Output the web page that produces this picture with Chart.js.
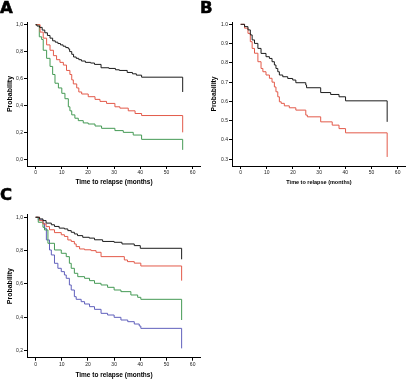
<!DOCTYPE html>
<html><head><meta charset="utf-8">
<script src="https://cdn.jsdelivr.net/npm/chart.js@4.4.1/dist/chart.umd.min.js"></script>
<style>
html,body{margin:0;padding:0;background:#fff;}
#wrap{position:relative;width:406px;height:379px;overflow:hidden;background:#fff;}
canvas{position:absolute;}
.lbl{position:absolute;font-family:"DejaVu Sans",sans-serif;font-weight:bold;font-size:15px;line-height:15px;color:#000;-webkit-text-stroke:0.5px #000;transform:scaleX(1.1);transform-origin:0 0;}
</style></head><body>
<div id="wrap">
<canvas id="cA" width="201" height="190" style="left:0;top:0"></canvas>
<canvas id="cB" width="206" height="190" style="left:200px;top:0"></canvas>
<canvas id="cC" width="201" height="194" style="left:0;top:185px"></canvas>
<div class="lbl" style="left:0;top:1px">A</div>
<div class="lbl" style="left:200px;top:1px">B</div>
<div class="lbl" style="left:0;top:188px">C</div>
</div>
<script>
// ---- tick labels ----
const xTicks = [0,10,20,30,40,50,60];
const xTickLabels = ['0','10','20','30','40','50','60'];
const yTicksA = [0,0.2,0.4,0.6,0.8,1.0];
const yTickLabelsA = ['0,0','0,2','0,4','0,6','0,8','1,0'];
const yTicksB = [0.3,0.4,0.5,0.6,0.7,0.8,0.9,1.0];
const yTickLabelsB = ['0.3','0.4','0.5','0.6','0.7','0.8','0.9','1.0'];
const yTicksC = [0.2,0.4,0.6,0.8,1.0];
const yTickLabelsC = ['0,2','0,4','0,6','0,8','1,0'];
const xTitle = 'Time to relapse (months)';
const yTitle = 'Probability';

// ---- Panel A ----
const timeA_black = [0,0.5,1.5,2.5,3.5,4.5,5.5,6.5,7.5,8.5,9.5,10.5,11.5,12.5,13,13.8,14.5,15.5,16.5,17.5,19,21,22.5,25,28,30.5,32,35,37,38.5,40.5,56.2];
const survA_black = [1,0.99,0.98,0.96,0.94,0.92,0.90,0.88,0.87,0.86,0.85,0.84,0.83,0.82,0.80,0.78,0.76,0.75,0.74,0.73,0.72,0.715,0.705,0.68,0.675,0.665,0.66,0.645,0.635,0.625,0.61,0.50];
const timeA_red = [0,1.7,2.9,4.2,5.5,6.8,8,9.3,10.6,11.8,13.1,13.8,14.4,15.7,16.5,17.6,20.1,22.7,24.6,27.1,30.3,32.2,35.4,38,40.5,56.2];
const survA_red = [1,0.945,0.90,0.85,0.81,0.77,0.74,0.72,0.70,0.66,0.63,0.59,0.56,0.53,0.50,0.485,0.465,0.445,0.43,0.415,0.39,0.38,0.36,0.34,0.325,0.20];
const timeA_green = [0,1.4,2.3,2.9,4.2,5.5,6.5,7.4,8.7,10,11.2,12.5,13.1,13.8,15,16.3,18.2,20.1,22.7,25.2,30.3,33.5,37.3,40.5,56.2];
const survA_green = [1,0.91,0.89,0.81,0.75,0.69,0.63,0.565,0.53,0.49,0.45,0.39,0.36,0.33,0.305,0.287,0.27,0.262,0.247,0.23,0.213,0.20,0.18,0.148,0.07];

// ---- Panel B ----
const timeB_black = [0,1.5,2.8,3.7,4.4,5.3,6.6,7.8,9.7,11,12,12.9,13.5,14.2,14.8,16.1,18,19.9,21.1,24.9,25.2,30.6,34.4,37.6,40.1,56];
const survB_black = [1,0.988,0.971,0.945,0.919,0.901,0.875,0.849,0.832,0.823,0.806,0.789,0.771,0.754,0.737,0.728,0.719,0.711,0.697,0.685,0.671,0.646,0.636,0.624,0.603,0.494];
const timeB_red = [0,1.5,2.8,3.7,4.4,5.3,6.6,7.8,8.5,9.7,11,12,12.9,13.5,14.2,14.8,15.5,16.7,18.6,21.1,24.9,25.5,30.6,35,37.6,40.1,56];
const survB_red = [1,0.98,0.953,0.91,0.875,0.85,0.806,0.771,0.754,0.737,0.72,0.70,0.675,0.65,0.624,0.598,0.59,0.577,0.567,0.555,0.529,0.52,0.494,0.477,0.459,0.437,0.312];

// ---- Panel C ----
const timeC_black = [0,1.5,2.8,4,6,7.2,9,11,12.3,13.6,14.8,16,18,20.5,22.5,25.6,30,33,37.7,40,55.8];
const survC_black = [1,0.99,0.98,0.965,0.955,0.945,0.935,0.93,0.92,0.91,0.90,0.89,0.88,0.875,0.865,0.855,0.85,0.84,0.83,0.814,0.748];
const timeC_red = [0,1.5,2.8,4,5.3,7.2,9.8,11,12.3,13.6,14.8,15.5,16.8,18.7,21.2,23.1,25,33.9,35.1,37.7,40.2,55.8];
const survC_red = [1,0.98,0.96,0.944,0.925,0.908,0.895,0.885,0.864,0.855,0.84,0.824,0.81,0.805,0.80,0.79,0.764,0.744,0.734,0.725,0.708,0.62];
const timeC_green = [0,1,2.8,3.4,4.7,7.2,9.8,11.7,12.9,13.6,14.8,16.1,18.7,20.6,22.5,25,27.5,30,32.6,36.4,39,40.2,55.8];
const survC_green = [1,0.97,0.94,0.924,0.844,0.804,0.784,0.764,0.724,0.694,0.664,0.644,0.634,0.62,0.604,0.594,0.58,0.564,0.554,0.534,0.52,0.508,0.384];
const timeC_blue = [0,1,2.8,3.4,4.1,5.3,6,7.2,8.5,9.8,11,11.7,12.9,13.6,14.8,15.5,17.4,18.7,20.6,22.5,25,27.5,30,32.6,35.2,37.7,39.6,40.2,55.8];
const survC_blue = [1,0.984,0.964,0.934,0.864,0.804,0.774,0.724,0.694,0.674,0.654,0.634,0.594,0.564,0.524,0.508,0.494,0.48,0.464,0.448,0.424,0.414,0.40,0.384,0.374,0.36,0.348,0.334,0.214];

const COL = {black:'#1c1c1c', red:'#e35a4a', green:'#459a55', blue:'#6060bc'};

function series(t, s, color){
  return {data: t.map((x,i)=>({x:x, y:s[i]})), borderColor: color, borderWidth: 1,
    pointRadius: 0, stepped: true, fill: false, tension: 0};
}
const tickFont = {family:'Liberation Sans', size:5};
function xScale(h, tSize, tPad){
  return {type:'linear', min:-3.3, max:63.2,
    afterBuildTicks: s => { s.ticks = xTicks.map(v=>({value:v})); },
    afterFit: s => { s.height = h; },
    ticks:{callback:(v,i)=>xTickLabels[i], font:tickFont, color:'#222', padding:1, autoSkip:false, maxRotation:0},
    grid:{drawOnChartArea:false, drawTicks:true, tickLength:3, color:'#000', lineWidth:1},
    border:{display:true, color:'#000', width:1},
    title:{display:true, text:xTitle, color:'#000', font:{family:'Liberation Sans', size:tSize, weight:'bold'}, padding:{top:0,bottom:tPad}}
  };
}
function yScale(min, max, ticks, labels, w, tSize, tPad){
  return {type:'linear', min:min, max:max,
    afterBuildTicks: s => { s.ticks = ticks.map(v=>({value:v})); },
    afterFit: s => { s.width = w; },
    ticks:{callback:(v,i)=>labels[i], font:tickFont, color:'#222', padding:1, autoSkip:false},
    grid:{drawOnChartArea:false, drawTicks:true, tickLength:3, color:'#000', lineWidth:1},
    border:{display:true, color:'#000', width:1},
    title:{display:true, text:yTitle, color:'#000', font:{family:'Liberation Sans', size:tSize, weight:'bold'}, padding:{top:tPad,bottom:0}}
  };
}
function make(id, datasets, xs, ys, padTop){
  new Chart(document.getElementById(id), {
    type:'line',
    data:{datasets:datasets},
    options:{responsive:false, animation:false, devicePixelRatio:1,
      layout:{padding:{top:padTop,left:0,right:0,bottom:0}},
      plugins:{legend:{display:false}, tooltip:{enabled:false}},
      scales:{x:xs, y:ys}}
  });
}
make('cA', [series(timeA_black,survA_black,COL.black), series(timeA_red,survA_red,COL.red), series(timeA_green,survA_green,COL.green)],
  xScale(24, 6.5, 4.1), yScale(-0.05, 1.02, yTicksA, yTickLabelsA, 27, 7, 5.6), 22);
make('cB', [series(timeB_black,survB_black,COL.black), series(timeB_red,survB_red,COL.red)],
  xScale(24, 5.5, 4), yScale(0.265, 1.012, yTicksB, yTickLabelsB, 32, 6.8, 10.4), 22);
make('cC', [series(timeC_black,survC_black,COL.black), series(timeC_red,survC_red,COL.red), series(timeC_green,survC_green,COL.green), series(timeC_blue,survC_blue,COL.blue)],
  xScale(21.3, 6.5, 0.1), yScale(0.158, 1.016, yTicksC, yTickLabelsC, 27, 7, 5.6), 29.6);
</script>
</body></html>
